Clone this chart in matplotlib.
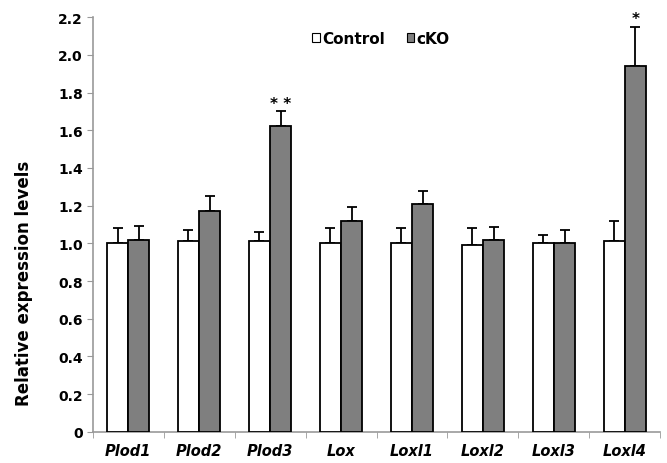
import matplotlib.pyplot as plt
from matplotlib.patches import Patch
import numpy as np

plt.rcParams['font.family'] = ['DejaVu Sans']

genes = ['Plod1', 'Plod2', 'Plod3', 'Lox', 'Loxl1', 'Loxl2', 'Loxl3', 'Loxl4']
control = [1.00, 1.01, 1.01, 1.00, 1.00, 0.99, 1.00, 1.01]
control_err = [0.08, 0.06, 0.05, 0.08, 0.08, 0.09, 0.045, 0.11]
cko = [1.02, 1.17, 1.62, 1.12, 1.21, 1.02, 1.00, 1.94]
cko_err = [0.07, 0.08, 0.08, 0.075, 0.07, 0.065, 0.07, 0.21]
stars = {2: '* *', 7: '*'}

fig = plt.figure(figsize=(6.67, 4.64), dpi=100)
ax = fig.add_axes([0.139, 0.067, 0.851, 0.894])

x = np.arange(len(genes))
w = 0.3
ax.bar(x - w/2, control, w, color='white', edgecolor='black', linewidth=1.3, zorder=3)
ax.bar(x + w/2, cko, w, color='#7f7f7f', edgecolor='black', linewidth=1.3, zorder=3)
ax.errorbar(x - w/2, control, yerr=[np.zeros(len(x)), control_err], fmt='none',
            ecolor='black', elinewidth=1.3, capsize=3.5, capthick=1.3, zorder=2)
ax.errorbar(x + w/2, cko, yerr=[np.zeros(len(x)), cko_err], fmt='none',
            ecolor='black', elinewidth=1.3, capsize=3.5, capthick=1.3, zorder=2)

for i, s in stars.items():
    ax.text(x[i] + w/2, cko[i] + cko_err[i] + 0.02, s, ha='center', va='baseline',
            fontsize=11, fontweight='bold')

ax.set_xlim(-0.5, len(genes) - 0.5)
ax.set_ylim(0, 2.2)
yt = np.arange(0, 2.21, 0.2)
ax.set_yticks(yt)
ax.set_yticklabels(['0'] + ['%.1f' % v for v in yt[1:]], fontsize=10, fontweight='bold')
ax.set_xticks(x)
ax.set_xticklabels(genes, fontsize=10.5, fontweight='bold', style='italic')
ax.tick_params(axis='x', length=0, pad=8)
ax.set_xticks(np.arange(-0.5, len(genes)), minor=True)
ax.tick_params(axis='x', which='minor', length=4, color='#999999')
ax.tick_params(axis='y', length=4, color='#999999', pad=3)
for sp in ['top', 'right']:
    ax.spines[sp].set_visible(False)
for sp in ['left', 'bottom']:
    ax.spines[sp].set_color('#999999')
    ax.spines[sp].set_linewidth(1.2)

ax.set_ylabel('Relative expression levels', fontsize=12, fontweight='bold')
ax.yaxis.set_label_coords(-0.105, 0.36)

handles = [Patch(facecolor='white', edgecolor='black', linewidth=0.8),
           Patch(facecolor='#7f7f7f', edgecolor='black', linewidth=0.8)]
ax.legend(handles, ['Control', 'cKO'], loc='upper center', bbox_to_anchor=(0.508, 1.0),
          ncol=2, frameon=False, handlelength=0.5, handleheight=0.5, handletextpad=0.15,
          columnspacing=1.4, prop={'weight': 'bold', 'size': 11})

fig.savefig('out.png', dpi=100)
